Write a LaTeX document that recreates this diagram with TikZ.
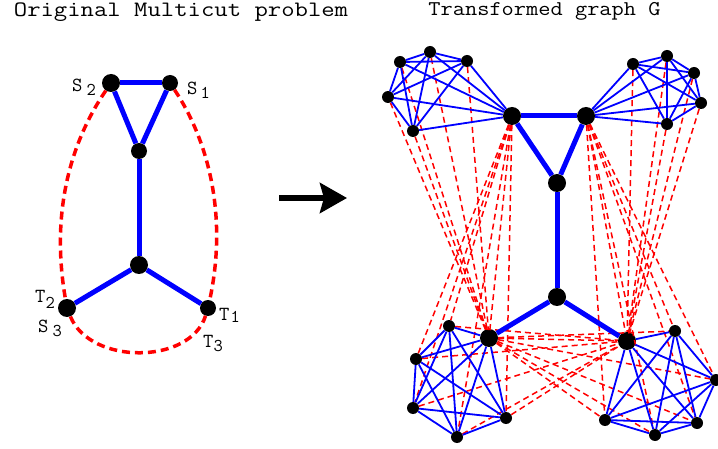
\documentclass[tikz,border=0pt]{standalone}
\usepackage{fontspec}
\usetikzlibrary{arrows.meta}
\begin{document}
\begin{tikzpicture}[x=1pt,y=-1pt,
  bignode/.style={circle,fill=black,inner sep=0pt,minimum size=18pt},
  midnode/.style={circle,fill=black,inner sep=0pt,minimum size=16pt},
  smallnode/.style={circle,fill=black,inner sep=0pt,minimum size=12pt},
  thickedge/.style={draw=blue,line width=5pt},
  cliqueedge/.style={draw=blue,line width=1.8pt},
  demandleft/.style={draw=red,line width=3.5pt,dash pattern=on 8pt off 5pt},
  demandright/.style={draw=red,line width=1.5pt,dash pattern=on 6pt off 4pt},
  lbl/.style={inner sep=0pt,anchor=base west,font=\ttfamily\fontsize{20}{20}\selectfont},
  titlefont/.style={inner sep=0pt,font=\ttfamily\fontsize{#1}{#1}\selectfont}
]
\useasboundingbox (0,0) rectangle (718,449);

% ---------- titles ----------
\node[titlefont=22] (title1) at (181,12) {\scalebox{1.18}[1]{Original Multicut problem}};
\node[titlefont=21] (title2) at (544.5,11) {\scalebox{1.13}[1]{Transformed graph G}};

% ---------- left graph ----------
\node[bignode] (s2) at (111,83) {};
\node[midnode] (s1) at (170,83) {};
\node[midnode] (lm) at (139,151) {};
\node[bignode] (lc) at (139,265) {};
\node[bignode] (t2) at (67,308) {};
\node[midnode] (t1) at (208,308) {};

\draw[thickedge] (s2) -- (s1);
\draw[thickedge] (s2) -- (lm);
\draw[thickedge] (s1) -- (lm);
\draw[thickedge] (lm) -- (lc);
\draw[thickedge] (lc) -- (t2);
\draw[thickedge] (lc) -- (t1);

\draw[demandleft] (s2) .. controls (72,140) and (50,210) .. (t2);
\draw[demandleft] (s1) .. controls (208,140) and (228,215) .. (t1);
\draw[demandleft] (t2) .. controls (90,365) and (190,365) .. (t1);

\node[lbl] (ls2) at (72,92) {S\hspace{4pt}\raisebox{-4pt}{\fontsize{18}{18}\selectfont 2}};
\node[lbl] (ls1) at (187,95) {S\hspace{3pt}\raisebox{-4pt}{\fontsize{18}{18}\selectfont 1}};
\node[lbl] (lt2) at (35,302) {T\raisebox{-6pt}{\fontsize{18}{18}\selectfont 2}};
\node[lbl] (ls3) at (38,332) {S\hspace{4pt}\raisebox{-4pt}{\fontsize{18}{18}\selectfont 3}};
\node[lbl] (lt1) at (219,320) {T\hspace{1pt}\raisebox{-2pt}{\fontsize{18}{18}\selectfont 1}};
\node[lbl] (lt3) at (203,347) {T\raisebox{-5pt}{\fontsize{18}{18}\selectfont 3}};

% ---------- arrow ----------
\coordinate (ar1) at (279,198);
\coordinate (ar2) at (347,198);
\draw[line width=6pt,-{Stealth[length=27pt,width=30pt,inset=4pt]}] (ar1) -- (ar2);

% ---------- right graph nodes ----------
% top-left cluster (a0 = S2 copy)
\node[bignode] (a0) at (512,116) {};
\node[smallnode] (a1) at (400,62) {};
\node[smallnode] (a2) at (430,52) {};
\node[smallnode] (a3) at (467,61) {};
\node[smallnode] (a4) at (388,97) {};
\node[smallnode] (a5) at (413,131) {};
% top-right cluster
\node[bignode] (b0) at (586,116) {};
\node[smallnode] (b1) at (633,64) {};
\node[smallnode] (b2) at (667,56) {};
\node[smallnode] (b3) at (694,73) {};
\node[smallnode] (b4) at (701,103) {};
\node[smallnode] (b5) at (667,124) {};
% bottom-left cluster
\node[bignode] (c0) at (489,338) {};
\node[smallnode] (c1) at (449,326) {};
\node[smallnode] (c2) at (416,359) {};
\node[smallnode] (c3) at (413,408) {};
\node[smallnode] (c4) at (457,437) {};
\node[smallnode] (c5) at (506,418) {};
% bottom-right cluster
\node[bignode] (d0) at (627,341) {};
\node[smallnode] (d1) at (675,331) {};
\node[smallnode] (d2) at (716,380) {};
\node[smallnode] (d3) at (697,423) {};
\node[smallnode] (d4) at (655,435) {};
\node[smallnode] (d5) at (605,420) {};
% middle
\node[bignode] (mc) at (557,183) {};
\node[bignode] (md) at (557,297) {};

% ---------- demand (red dashed) ----------
\foreach \k in {1,...,5}{
  \draw[demandright] (a\k) -- (c0);
  \draw[demandright] (b\k) -- (d0);
  \draw[demandright] (c\k) -- (d0);
}
\foreach \k in {0,...,5}{
  \draw[demandright] (a0) -- (c\k);
  \draw[demandright] (b0) -- (d\k);
  \draw[demandright] (c0) -- (d\k);
}

% ---------- cliques ----------
\foreach \g in {a,b,c,d}{
  \foreach \i in {0,...,4}{
    \pgfmathtruncatemacro\nxt{\i+1}
    \foreach \j in {\nxt,...,5}{
      \draw[cliqueedge] (\g\i) -- (\g\j);
    }
  }
}

% ---------- main blue edges ----------
\draw[thickedge] (a0) -- (b0);
\draw[thickedge] (a0) -- (mc);
\draw[thickedge] (b0) -- (mc);
\draw[thickedge] (mc) -- (md);
\draw[thickedge] (md) -- (c0);
\draw[thickedge] (md) -- (d0);
\end{tikzpicture}
\end{document}
